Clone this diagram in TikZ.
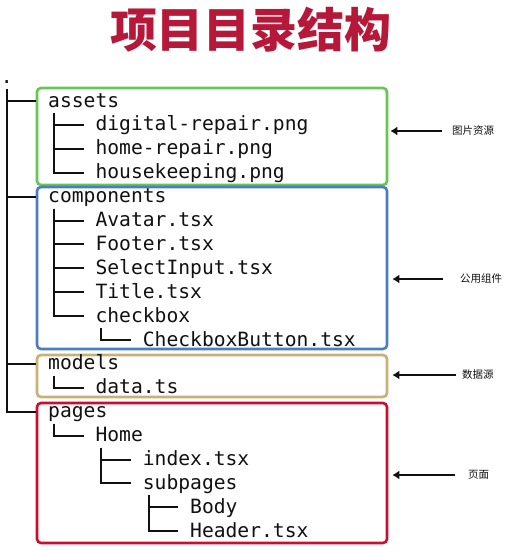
\documentclass[tikz,border=0pt]{standalone}
\usepackage{fontspec}
\usetikzlibrary{arrows.meta,calc}
\newfontfamily\cjk{Noto Sans CJK SC}
\newfontfamily\monof{DejaVu Sans Mono}
\definecolor{titlered}{RGB}{182,24,58}
\definecolor{bgreen}{RGB}{100,200,80}
\definecolor{bblue}{RGB}{76,124,196}
\definecolor{btan}{RGB}{201,176,116}
\definecolor{bred}{RGB}{200,16,46}
\definecolor{ink}{RGB}{17,17,17}
\newcommand\tn[4]{\node[ftxt] (#1) at ({0.7+11.83*#2},{101+(#3-1)*23.9+6}) {#4};}
\tikzset{
  ftxt/.style={anchor=base west,inner sep=0pt,text=ink,font=\monof\fontsize{19.65}{20}\selectfont},
  tline/.style={line width=2pt,ink},
  box/.style={draw=#1,line width=2.6pt,rounded corners=4pt,inner sep=0pt},
  lab/.style={anchor=west,inner sep=0pt,font=\cjk\fontsize{10.5}{12}\selectfont,text=ink},
  arr/.style={line width=2pt,-{Latex[length=7pt,width=9pt]},ink}
}
\begin{document}
\begin{tikzpicture}[x=1pt,y=-1pt]
\useasboundingbox[fill=white] (0,0) rectangle (508,550);
% title
\node[font=\cjk\bfseries\fontsize{47}{50}\selectfont,text=titlered] (title) at (251,30) {项目目录结构};
% boxes
\node[box=bgreen,minimum width=350pt,minimum height=97pt] (gbox) at (212,136.5) {};
\node[box=bblue,minimum width=350pt,minimum height=162pt] (bbox) at (212,268) {};
\node[box=btan,minimum width=350pt,minimum height=42pt] (tbox) at (212,376) {};
\node[box=bred,minimum width=350pt,minimum height=140pt] (rbox) at (212,473) {};
% tree text
\tn{root}{0}{0}{.}
\tn{assets}{4}{1}{assets}
\tn{dr}{8}{2}{digital-repair.png}
\tn{hr}{8}{3}{home-repair.png}
\tn{hk}{8}{4}{housekeeping.png}
\tn{comp}{4}{5}{components}
\tn{av}{8}{6}{Avatar.tsx}
\tn{ft}{8}{7}{Footer.tsx}
\tn{si}{8}{8}{SelectInput.tsx}
\tn{ti}{8}{9}{Title.tsx}
\tn{cb}{8}{10}{checkbox}
\tn{cbb}{12}{11}{CheckboxButton.tsx}
\tn{models}{4}{12}{models}
\tn{data}{8}{13}{data.ts}
\tn{pages}{4}{14}{pages}
\tn{home}{8}{15}{Home}
\tn{idx}{12}{16}{index.tsx}
\tn{sub}{12}{17}{subpages}
\tn{body}{16}{18}{Body}
\tn{hdr}{16}{19}{Header.tsx}
% tree lines
\foreach \p/\c in {root/assets,root/comp,root/models,root/pages,
  assets/dr,assets/hr,assets/hk,
  comp/av,comp/ft,comp/si,comp/ti,comp/cb,cb/cbb,
  models/data,pages/home,home/idx,home/sub,sub/body,sub/hdr}
  \draw[tline] ([xshift=5.9pt,yshift=-5.95pt]\p.base west) |- ([xshift=-11.83pt,yshift=6pt]\c.base west);
% side labels
\node[lab] (l1) at (452,131) {图片资源};
\node[lab] (l2) at (460,279) {公用组件};
\node[lab] (l3) at (462,375) {数据源};
\node[lab] (l4) at (468,475) {页面};
\draw[arr] ([xshift=-10pt]l1.west) -- ($(l1.west -| gbox.east)+(2,0)$);
\draw[arr] ([xshift=-17pt]l2.west) -- ($(l2.west -| bbox.east)+(4,0)$);
\draw[arr] ([xshift=-6pt]l3.west) -- ($(l3.west -| tbox.east)+(4,0)$);
\draw[arr] ([xshift=-13pt]l4.west) -- ($(l4.west -| rbox.east)+(4,0)$);
\end{tikzpicture}
\end{document}
